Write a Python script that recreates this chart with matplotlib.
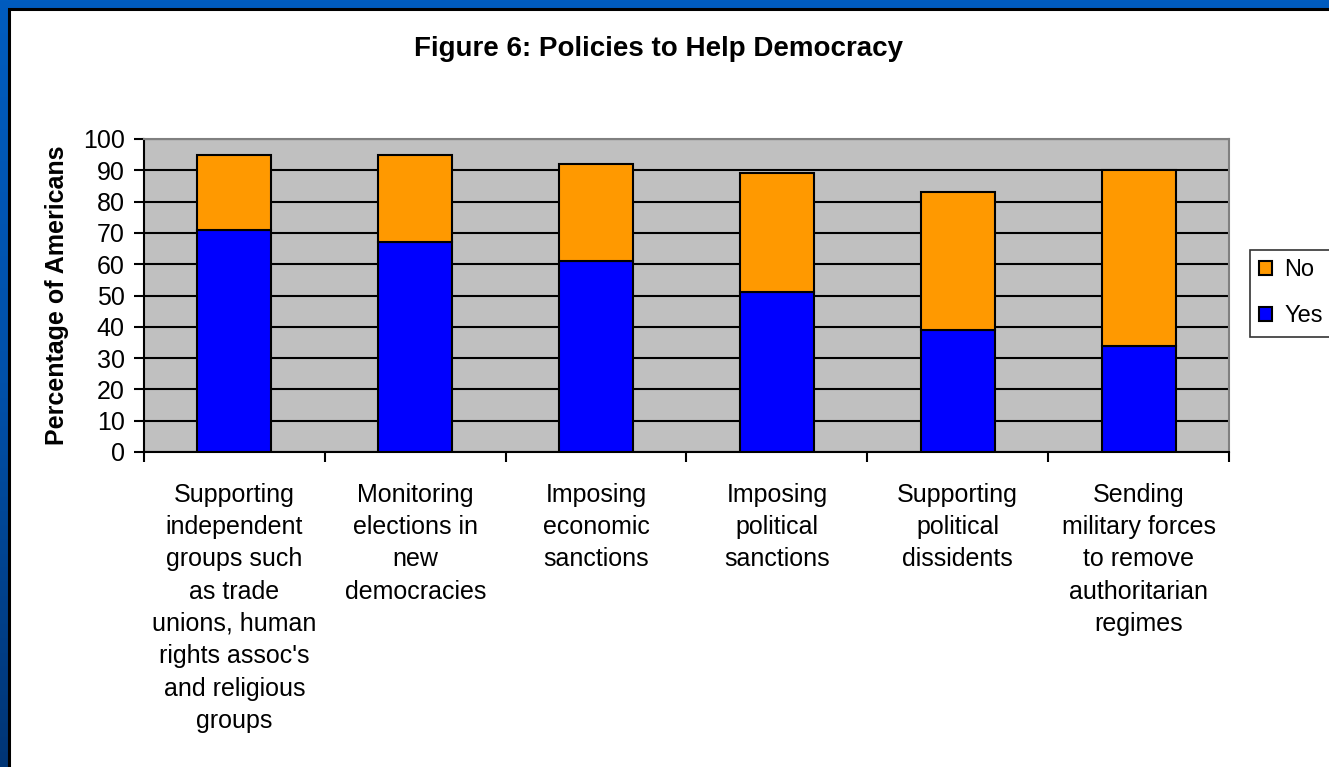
import numpy as np
import matplotlib.pyplot as plt
from matplotlib.patches import Rectangle
from matplotlib.colors import LinearSegmentedColormap

plt.rcParams['font.family'] = ['Liberation Sans', 'DejaVu Sans']

categories = [
    "Supporting\nindependent\ngroups such\nas trade\nunions, human\nrights assoc's\nand religious\ngroups",
    "Monitoring\nelections in\nnew\ndemocracies",
    "Imposing\neconomic\nsanctions",
    "Imposing\npolitical\nsanctions",
    "Supporting\npolitical\ndissidents",
    "Sending\nmilitary forces\nto remove\nauthoritarian\nregimes",
]
yes_vals = [71, 67, 61, 51, 39, 34]
no_vals = [24, 28, 31, 38, 44, 56]
yticks = list(range(0, 101, 10))

W, H = 1329, 767
fig = plt.figure(figsize=(W / 100, H / 100), dpi=100)

# slide background: blue gradient behind a white panel
bg = fig.add_axes([0, 0, 1, 1], zorder=-10)
grad = np.linspace(0, 1, 256).reshape(-1, 1)
cmap = LinearSegmentedColormap.from_list("slide", ["#005cbf", "#0050a8", "#003575"])
bg.imshow(grad, aspect='auto', cmap=cmap, extent=[0, 1, 0, 1], origin='upper')
bg.set_xlim(0, 1)
bg.set_ylim(0, 1)
bg.axis('off')
bg.add_patch(Rectangle((9 / W, -0.01), 1.02, 1 - 9 / H + 0.01, facecolor='white',
                       edgecolor='black', linewidth=2.2))

ax = fig.add_axes([144 / W, 1 - 452 / H, (1229 - 144) / W, (452 - 139) / H])
ax.set_facecolor('#c0c0c0')

x = np.arange(len(categories))
bar_w = 0.41
ax.bar(x, yes_vals, bar_w, color='#0000ff', edgecolor='black', linewidth=1.5,
       label='Yes', zorder=3)
ax.bar(x, no_vals, bar_w, bottom=yes_vals, color='#ff9900', edgecolor='black',
       linewidth=1.5, label='No', zorder=3)

ax.set_xlim(-0.5, len(categories) - 0.5)
ax.set_ylim(0, 100)
ax.set_yticks(yticks)
ax.yaxis.grid(True, color='black', linewidth=1.5, zorder=1)
ax.set_axisbelow(True)

ax.set_xticks(np.arange(len(categories) + 1) - 0.5)
ax.set_xticklabels([])
ax.set_xticks(x, categories, minor=True)
ax.tick_params(axis='x', which='minor', length=0, pad=22, labelsize=18)
ax.tick_params(axis='x', which='major', length=7, width=1.5, direction='out')
ax.tick_params(axis='y', length=7, width=1.5, direction='out', labelsize=18, pad=7)
for lbl in ax.get_xticklabels(minor=True):
    lbl.set_linespacing(1.44)

for side in ['left', 'bottom']:
    ax.spines[side].set_linewidth(1.5)
    ax.spines[side].set_color('black')
for side in ['top', 'right']:
    ax.spines[side].set_linewidth(1.5)
    ax.spines[side].set_color('#808080')

ax.set_ylabel("Percentage of Americans", fontsize=18, fontweight='bold', labelpad=10)

fig.text(659 / W, 1 - 49 / H, "Figure 6: Policies to Help Democracy", ha='center',
         va='center', fontsize=20, fontweight='bold')

handles, labels = ax.get_legend_handles_labels()
leg = fig.legend(handles[::-1], labels[::-1], loc='upper left',
                 bbox_to_anchor=(1250 / W, 1 - 250 / H), fontsize=17,
                 frameon=True, fancybox=False, edgecolor='black',
                 handlelength=0.55, handleheight=0.55, handletextpad=0.5,
                 borderpad=0.4, labelspacing=1.0, borderaxespad=0)
leg.get_frame().set_linewidth(1.2)

fig.savefig("out.png", dpi=100)
